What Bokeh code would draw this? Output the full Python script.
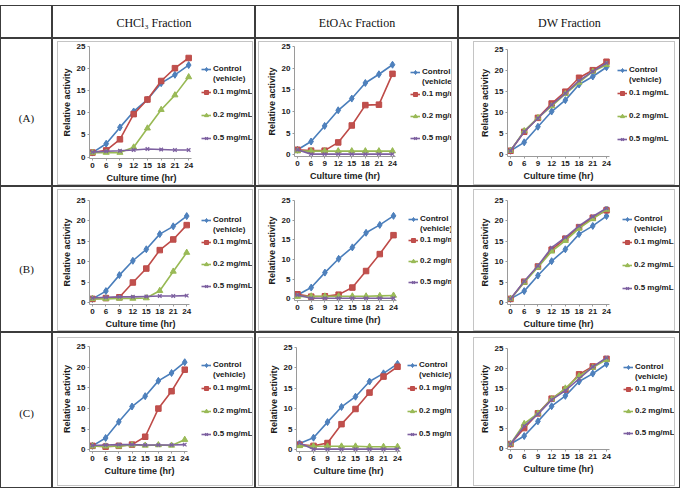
from bokeh.plotting import figure
from bokeh.models import Range1d, FixedTicker, Legend, LegendItem, Spacer, Title
from bokeh.layouts import row, column
from bokeh.core.properties import value
from bokeh.embed import file_html
from bokeh.resources import INLINE

# ---------------------------------------------------------------- data
times = ["0", "6", "9", "12", "15", "18", "21", "24"]
fractions = ["CHCl\u2083 Fraction", "EtOAc Fraction", "DW Fraction"]
conditions = ["(A)", "(B)", "(C)"]
series_labels = ["Control", "0.1 mg/mL", "0.2 mg/mL", "0.5 mg/mL"]
vehicle_note = "(vehicle)"
y_ticks = [0, 5, 10, 15, 20, 25]
x_title = "Culture time (hr)"
y_title = "Relative activity"

# (A) CHCl3 fraction
a_chcl3_ctrl = [1.0, 3.0, 6.7, 10.3, 13.0, 16.7, 18.6, 20.8]
a_chcl3_01 = [1.0, 1.5, 4.0, 9.7, 13.0, 17.2, 20.1, 22.4]
a_chcl3_02 = [1.0, 1.0, 1.0, 2.2, 6.5, 10.7, 14.0, 18.1]
a_chcl3_05 = [1.1, 1.3, 1.4, 1.6, 1.8, 1.7, 1.6, 1.6]
# (A) EtOAc fraction
a_etoac_ctrl = [1.2, 3.1, 6.7, 10.3, 13.0, 16.6, 18.6, 20.8]
a_etoac_01 = [1.2, 1.0, 1.0, 2.9, 6.8, 11.5, 11.6, 18.7]
a_etoac_02 = [0.9, 0.9, 0.9, 0.9, 0.9, 0.9, 0.9, 0.9]
a_etoac_05 = [1.2, 0.2, 0.2, 0.2, 0.2, 0.2, 0.2, 0.2]
# (A) DW fraction
a_dw_ctrl = [1.0, 3.0, 6.7, 10.3, 13.0, 16.7, 18.6, 20.8]
a_dw_01 = [1.0, 5.5, 8.8, 12.2, 15.0, 18.3, 20.1, 22.1]
a_dw_02 = [1.0, 5.7, 8.8, 11.6, 14.5, 17.2, 19.8, 21.4]
a_dw_05 = [1.0, 5.5, 8.7, 11.9, 14.6, 17.6, 19.8, 21.8]

# (B) CHCl3 fraction
b_chcl3_ctrl = [1.0, 2.9, 6.8, 10.3, 13.1, 16.8, 18.7, 21.2]
b_chcl3_01 = [1.0, 1.2, 1.4, 5.0, 8.4, 12.9, 15.5, 19.0]
b_chcl3_02 = [1.0, 1.0, 1.1, 1.1, 1.2, 3.0, 7.7, 12.3]
b_chcl3_05 = [1.2, 1.4, 1.5, 1.5, 1.6, 1.7, 1.7, 1.8]
# (B) EtOAc fraction
b_etoac_ctrl = [1.0, 2.9, 6.7, 10.2, 13.1, 16.8, 18.8, 21.1]
b_etoac_01 = [1.2, 0.6, 0.7, 1.1, 2.9, 7.1, 11.4, 16.2]
b_etoac_02 = [0.6, 0.7, 0.7, 0.7, 0.7, 0.7, 0.8, 0.9]
b_etoac_05 = [1.0, 0.2, 0.2, 0.2, 0.2, 0.2, 0.2, 0.2]
# (B) DW fraction
b_dw_ctrl = [1.0, 2.9, 6.7, 10.2, 13.1, 16.8, 18.8, 21.2]
b_dw_01 = [1.0, 5.2, 8.9, 13.0, 15.7, 18.5, 20.8, 22.6]
b_dw_02 = [1.0, 5.0, 8.7, 12.6, 15.2, 18.2, 20.5, 22.8]
b_dw_05 = [1.0, 5.3, 9.1, 13.5, 16.0, 18.8, 21.1, 23.1]

# (C) CHCl3 fraction
c_chcl3_ctrl = [1.0, 2.9, 6.8, 10.5, 13.0, 16.7, 18.6, 21.2]
c_chcl3_01 = [1.0, 0.8, 1.0, 1.3, 3.2, 10.0, 14.2, 19.4]
c_chcl3_02 = [0.9, 0.9, 0.9, 1.2, 1.1, 1.2, 1.1, 2.5]
c_chcl3_05 = [1.1, 1.2, 1.3, 1.3, 1.2, 1.2, 1.2, 1.3]
# (C) EtOAc fraction
c_etoac_ctrl = [1.6, 3.0, 6.8, 10.5, 13.0, 16.7, 18.7, 21.0]
c_etoac_01 = [1.3, 1.0, 1.7, 6.3, 10.0, 14.0, 17.9, 20.3]
c_etoac_02 = [1.0, 0.9, 0.9, 0.9, 0.9, 0.8, 0.8, 0.8]
c_etoac_05 = [1.7, 0.2, 0.2, 0.2, 0.2, 0.2, 0.2, 0.2]
# (C) DW fraction
c_dw_ctrl = [1.0, 3.0, 6.7, 10.5, 13.1, 16.7, 18.7, 21.1]
c_dw_01 = [1.0, 5.0, 8.7, 12.4, 14.7, 18.5, 20.5, 22.4]
c_dw_02 = [1.0, 6.1, 8.7, 12.3, 15.0, 18.1, 20.2, 22.2]
c_dw_05 = [1.0, 5.5, 8.5, 12.1, 14.4, 17.4, 20.4, 22.7]

panel_series = [
    [[a_chcl3_ctrl, a_chcl3_01, a_chcl3_02, a_chcl3_05],
     [a_etoac_ctrl, a_etoac_01, a_etoac_02, a_etoac_05],
     [a_dw_ctrl, a_dw_01, a_dw_02, a_dw_05]],
    [[b_chcl3_ctrl, b_chcl3_01, b_chcl3_02, b_chcl3_05],
     [b_etoac_ctrl, b_etoac_01, b_etoac_02, b_etoac_05],
     [b_dw_ctrl, b_dw_01, b_dw_02, b_dw_05]],
    [[c_chcl3_ctrl, c_chcl3_01, c_chcl3_02, c_chcl3_05],
     [c_etoac_ctrl, c_etoac_01, c_etoac_02, c_etoac_05],
     [c_dw_ctrl, c_dw_01, c_dw_02, c_dw_05]],
]

# ---------------------------------------------------------------- styling
LINE_COLORS = ["#4A7EBB", "#BE4B48", "#98B954", "#7D60A0"]
FILL_COLORS = ["#4F81BD", "#C0504D", "#9BBB59", "#8064A2"]
MARKERS = ["diamond", "square", "triangle", "x"]
SIZES = [7, 5.5, 6, 5]
AXIS_COLOR = "#9a9a9a"
TEXT_COLOR = "#1a1a1a"
SANS = "Liberation Sans"
SERIF = "Liberation Serif"
CELL_STYLE = {"outline": "1px solid #3c3c3c", "outline-offset": "-1px"}
CHART_STYLE = {"outline": "1px solid #c4c4c4"}
X_TITLE_W = 70  # rendered width of the x-axis title at 9px bold

# table grid (page pixels)
COL_X = [0, 52, 255, 458, 680]
ROW_Y = [5, 38, 186, 332, 488]
HEADER_TEXT_Y = 22
LABEL_TEXT_Y = [117, 268, 412]

# chart canvases per cell: (left inset, width) per column, (top inset, height) per row
COL_CANVAS = [(6, 194), (4, 192), (16, 200)]
ROW_CANVAS = [(4, 142), (4, 140), (6, 147)]

# plot-area anchors per chart: x of first/last category, y of 25 and 0,
# legend glyph left, first legend row centre, legend row pitch (page pixels)
ANCHORS = [
    [dict(px0=89, px1=187, py25=46, py0=157, lx=198, ly=69, lp=23),
     dict(px0=297, px1=392, py25=46, py0=154, lx=410, ly=71, lp=22),
     dict(px0=510, px1=606, py25=49, py0=154, lx=617, ly=69, lp=23)],
    [dict(px0=89, px1=185, py25=200, py0=302, lx=198, ly=219, lp=22),
     dict(px0=297, px1=393, py25=200, py0=298, lx=408, ly=218, lp=21),
     dict(px0=510, px1=606, py25=200, py0=302, lx=622, ly=218, lp=23)],
    [dict(px0=89, px1=183, py25=346, py0=449, lx=198, ly=364, lp=23),
     dict(px0=299, px1=397, py25=347, py0=449, lx=407, ly=364, lp=23),
     dict(px0=510, px1=606, py25=348, py0=448, lx=623, ly=367, lp=22)],
]
PAD_X = 3
PAD_Y = 1.5
ITEM_H = 10


def style_axis(ax):
    ax.axis_line_color = AXIS_COLOR
    ax.major_tick_line_color = AXIS_COLOR
    ax.minor_tick_line_color = None
    ax.major_tick_out = 2
    ax.major_tick_in = 0
    ax.major_label_standoff = 2
    ax.major_label_text_font = SANS
    ax.major_label_text_font_size = "8px"
    ax.major_label_text_font_style = "bold"
    ax.major_label_text_color = TEXT_COLOR
    ax.axis_label_standoff = 2
    ax.axis_label_text_font = SANS
    ax.axis_label_text_font_size = "9px"
    ax.axis_label_text_font_style = "bold"
    ax.axis_label_text_color = TEXT_COLOR


def legend(items, x, y, spacing):
    return Legend(items=items, location=(x, y), spacing=spacing, padding=0, margin=0,
                  border_line_color=None, background_fill_alpha=0,
                  glyph_width=10, glyph_height=ITEM_H, label_height=ITEM_H, label_standoff=2,
                  label_text_font=SANS, label_text_font_size="8px",
                  label_text_font_style="bold", label_text_color=TEXT_COLOR)


def make_chart(series, a, canvas):
    cx0, cy0, w, h = canvas
    n = len(times)
    frame_l = a["px0"] - PAD_X
    frame_b = a["py0"] + PAD_Y
    kx = (a["px1"] - a["px0"]) / (n - 1)
    ky = (a["py0"] - a["py25"]) / y_ticks[-1]
    # the plot area runs to the right edge of the chart so the legend sits inside it;
    # the category axis itself stops just past the last category
    x_start = -PAD_X / kx
    x_end = (cx0 + w - a["px0"]) / kx
    p = figure(width=w, height=h, output_backend="svg", toolbar_location=None,
               x_range=Range1d(x_start, x_end),
               y_range=Range1d(-PAD_Y / ky, y_ticks[-1]),
               min_border_left=frame_l - cx0, min_border_right=0,
               min_border_top=a["py25"] - cy0, min_border_bottom=round(cy0 + h - frame_b),
               outline_line_color=None, styles=CHART_STYLE)
    p.xgrid.visible = False
    p.ygrid.visible = False
    style_axis(p.xaxis[0])
    style_axis(p.yaxis[0])
    p.xaxis.ticker = FixedTicker(ticks=list(range(n)))
    p.xaxis.major_label_overrides = {i: t for i, t in enumerate(times)}
    p.xaxis.bounds = (x_start, n - 1 + PAD_X / kx)
    p.yaxis.ticker = FixedTicker(ticks=y_ticks)
    p.yaxis.axis_label = y_title

    # x title centred under the category axis rather than the whole plot area
    axis_mid = (a["px0"] + a["px1"]) / 2 - frame_l
    p.add_layout(Title(text=x_title, align="left", offset=axis_mid - X_TITLE_W / 2,
                       standoff=1, text_font=SANS, text_font_size="9px",
                       text_font_style="bold", text_color=TEXT_COLOR), "below")

    xs = list(range(n))
    rends = []
    for vals, lc, fc, mk, sz in zip(series, LINE_COLORS, FILL_COLORS, MARKERS, SIZES):
        ln = p.line(xs, vals, line_color=lc, line_width=1.6)
        sc = p.scatter(xs, vals, marker=mk, size=sz, fill_color=fc, line_color=lc,
                       line_width=1.3 if mk == "x" else 1)
        rends.append([ln, sc])

    lx = a["lx"] - frame_l
    # first legend block: control + note line
    top1 = a["ly"] - ITEM_H / 2
    bottom1 = top1 + 2 * ITEM_H
    leg1 = legend([LegendItem(label=series_labels[0], renderers=rends[0]),
                   LegendItem(label=vehicle_note, renderers=[])],
                  lx, frame_b - bottom1, 0)
    # second block: the three concentrations
    pitch = a["lp"]
    top2 = a["ly"] + pitch - ITEM_H / 2
    bottom2 = top2 + 3 * ITEM_H + 2 * (pitch - ITEM_H)
    leg2 = legend([LegendItem(label=lab, renderers=r)
                   for lab, r in zip(series_labels[1:], rends[1:])],
                  lx, frame_b - bottom2, pitch - ITEM_H)
    p.add_layout(leg1, "center")
    p.add_layout(leg2, "center")
    return p


def text_fig(w, h, txt, frac, font, size):
    p = figure(width=w, height=h, output_backend="svg", toolbar_location=None,
               x_range=Range1d(0, 1), y_range=Range1d(0, 1), min_border=0,
               x_axis_type=None, y_axis_type=None, outline_line_color=None)
    p.xgrid.visible = False
    p.ygrid.visible = False
    if txt:
        p.text(x=[0.5], y=[frac], text=[txt], text_align="center", text_baseline="middle",
               text_font=value(font), text_font_size=size, text_color="#111111")
    return p


def wrap(content, cw, ch, l, t, w, h):
    inner = column(Spacer(width=w, height=t), content, Spacer(width=w, height=ch - t - h))
    return row(Spacer(width=l, height=ch), inner, Spacer(width=cw - l - w, height=ch),
               styles=CELL_STYLE)


rows = []
# header row
hh = ROW_Y[1] - ROW_Y[0]
cells = []
for ci in range(4):
    cw = COL_X[ci + 1] - COL_X[ci]
    txt = "" if ci == 0 else fractions[ci - 1]
    frac = (ROW_Y[1] - 1 - HEADER_TEXT_Y) / (hh - 2)
    cells.append(wrap(text_fig(cw - 2, hh - 2, txt, frac, SERIF, "12px"), cw, hh, 1, 1, cw - 2, hh - 2))
rows.append(row(*cells))

for ri in range(3):
    ch = ROW_Y[ri + 2] - ROW_Y[ri + 1]
    cw0 = COL_X[1] - COL_X[0]
    frac = (ROW_Y[ri + 2] - 1 - LABEL_TEXT_Y[ri]) / (ch - 2)
    cells = [wrap(text_fig(cw0 - 2, ch - 2, conditions[ri], frac, SERIF, "11px"),
                  cw0, ch, 1, 1, cw0 - 2, ch - 2)]
    for ci in range(3):
        cw = COL_X[ci + 2] - COL_X[ci + 1]
        l, w = COL_CANVAS[ci]
        t, h = ROW_CANVAS[ri]
        canvas = (COL_X[ci + 1] + l, ROW_Y[ri + 1] + t, w, h)
        fig = make_chart(panel_series[ri][ci], ANCHORS[ri][ci], canvas)
        cells.append(wrap(fig, cw, ch, l, t, w, h))
    rows.append(row(*cells))

page = column(Spacer(width=COL_X[-1], height=ROW_Y[0]), *rows)

open("out.html", "w").write(file_html(page, INLINE))
